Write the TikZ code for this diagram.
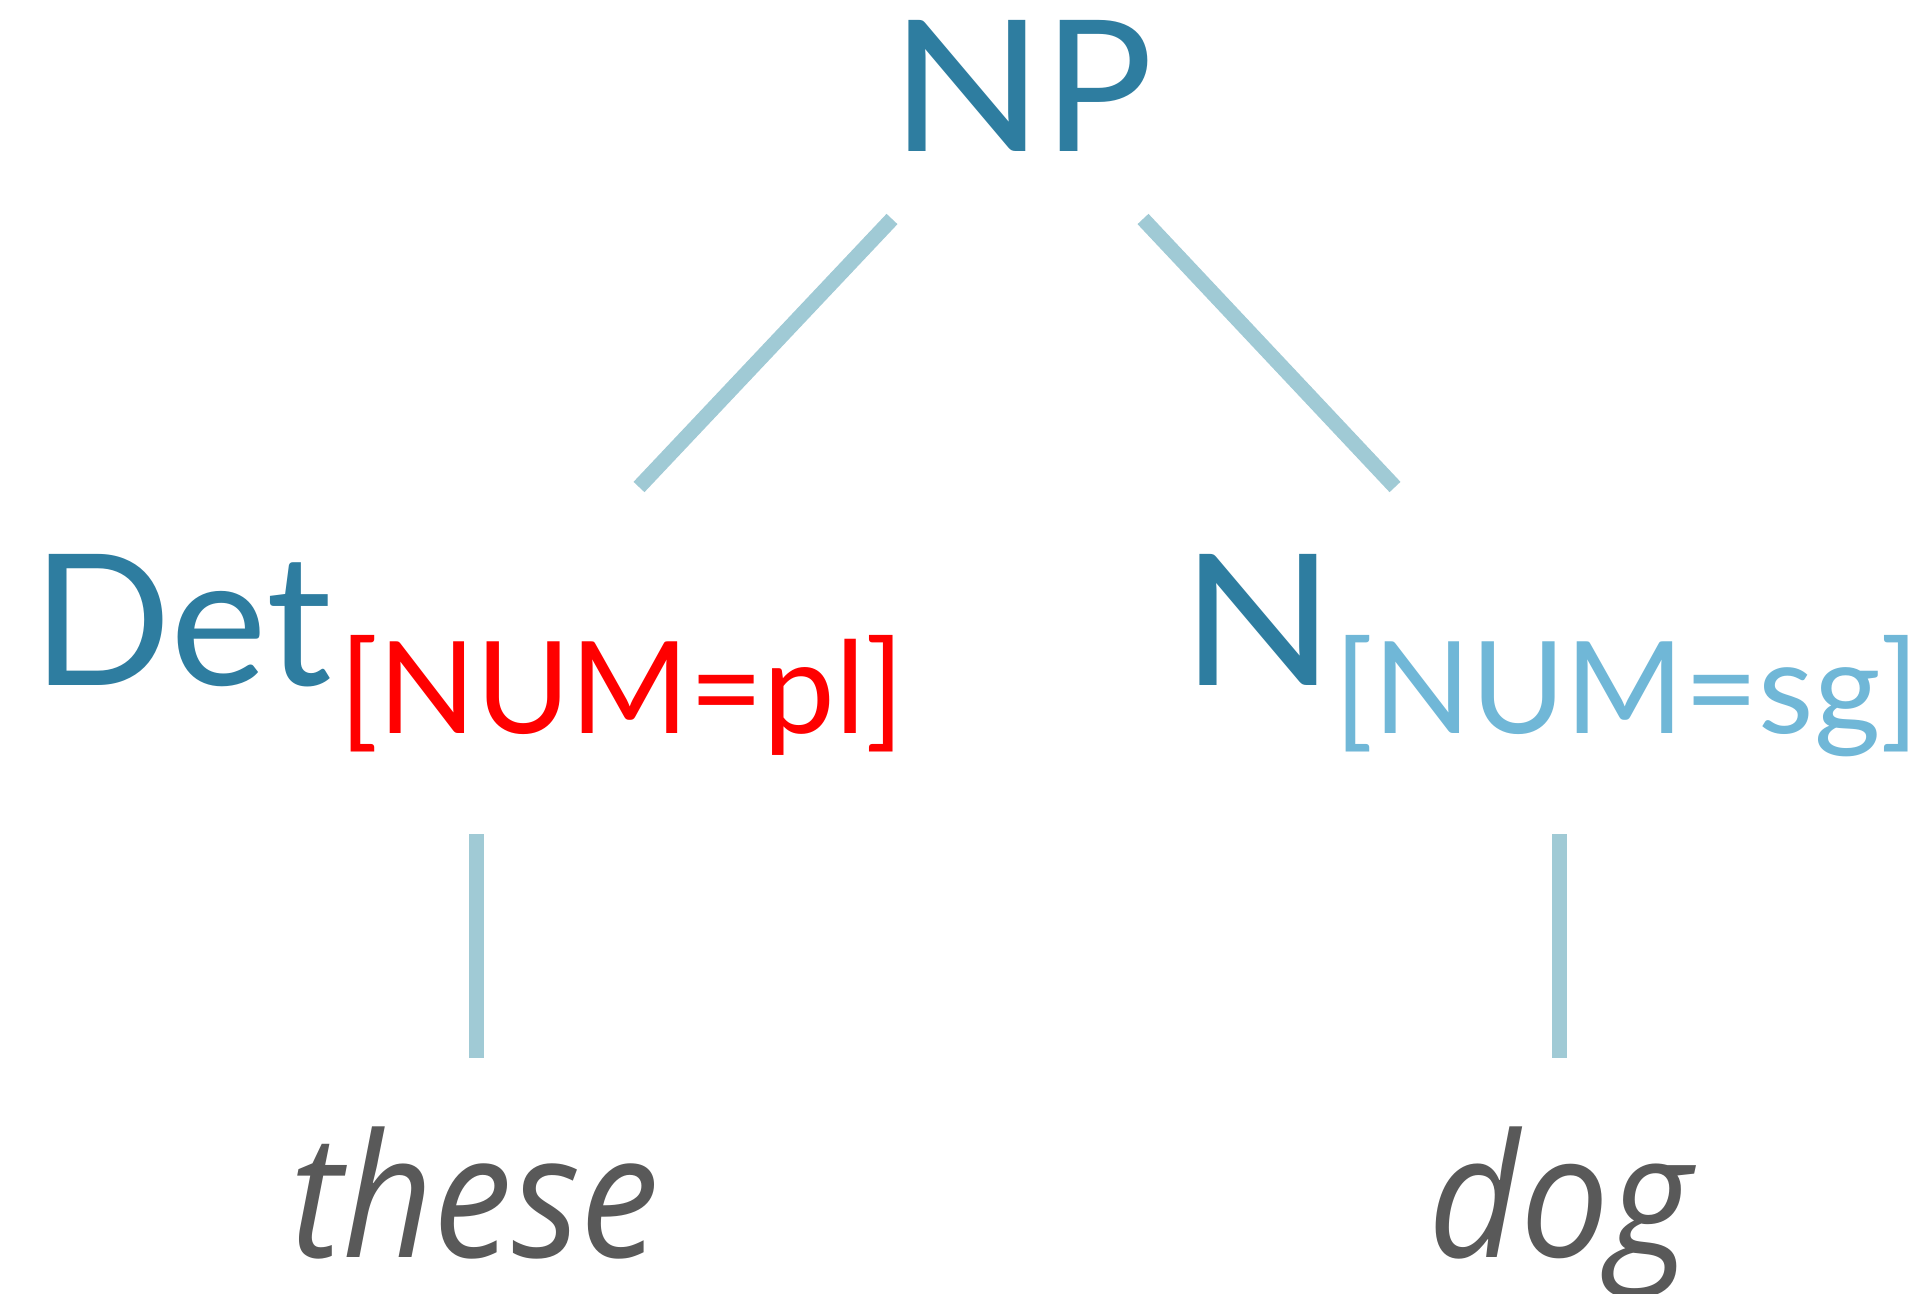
\documentclass[tikz,border=0pt]{standalone}
\usepackage{fontspec}
\usepackage{graphicx}
\newfontfamily\gs{Lato}
\newfontfamily\osi{Open Sans}[FakeStretch=0.92]
\definecolor{teal}{HTML}{2E7DA0}
\definecolor{lightb}{HTML}{70B7D7}
\definecolor{branch}{HTML}{A0CAD5}
\definecolor{wordgray}{HTML}{595959}
\newcommand\wideN{\scalebox{1.1}[1]{N}}
\tikzset{
  cat/.style={inner sep=0pt, anchor=base, text=teal, font=\gs\fontsize{91.5}{100}\selectfont},
  feat/.style={inner sep=0pt, anchor=base, font=\gs\fontsize{64}{70}\selectfont},
  word/.style={inner sep=0pt, anchor=base, text=wordgray, font=\osi\itshape\fontsize{86}{95}\selectfont},
  branchline/.style={draw=branch, line width=7.5pt}
}
\begin{document}
\begin{tikzpicture}[x=0.5pt,y=-0.5pt]
\useasboundingbox[fill=white] (0,0) rectangle (1921,1294);
\node[cat] (NP) at (1022,152) {\wideN P};
\node[cat] (Det) at (182,685) {Det};
\node[feat, text=red] (fpl) at (622,733) {[NUM=pl]};
\node[cat] (N) at (1258,685) {\wideN};
\node[feat, text=lightb] (fsg) at (1627,733) {[NUM=sg]};
\node[word] (these) at (475,1257) {these};
\node[word] (dog) at (1560,1257) {dog};
\coordinate (a1) at (892,219);
\coordinate (a2) at (639,487);
\coordinate (b1) at (1143,219);
\coordinate (b2) at (1395,487);
\coordinate (c1) at (476,834);
\coordinate (c2) at (476,1058);
\coordinate (d1) at (1559,834);
\coordinate (d2) at (1559,1058);
\draw[branchline] (a1) -- (a2);
\draw[branchline] (b1) -- (b2);
\draw[branchline] (c1) -- (c2);
\draw[branchline] (d1) -- (d2);
\end{tikzpicture}
\end{document}
